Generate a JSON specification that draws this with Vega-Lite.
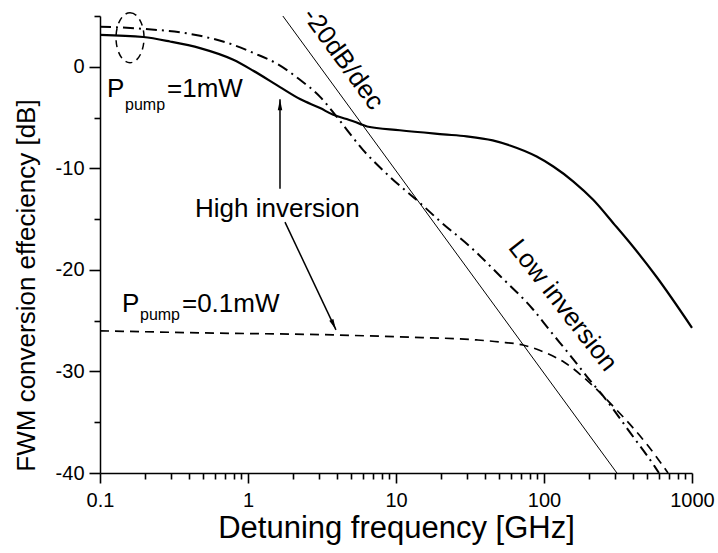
{
  "$schema": "https://vega.github.io/schema/vega-lite/v6.json",
  "width": 592,
  "height": 457,
  "autosize": {"type": "none"},
  "padding": {"left": 100, "top": 16, "right": 26, "bottom": 80},
  "background": "white",
  "config": {
    "view": {"stroke": null},
    "font": "Liberation Sans",
    "axis": {"grid": false, "ticks": true, "tickOpacity": 1, "domainColor": "black", "domainWidth": 1.5, "tickColor": "black", "tickWidth": 1.6, "labelColor": "black", "titleColor": "black", "titleFontWeight": "normal", "labelFont": "Liberation Sans", "titleFont": "Liberation Sans"}
  },
  "resolve": {"axis": {"x": "independent", "y": "independent"}},
  "datasets": {
    "curves": [
      {"series": "high1", "f": 0.1, "db": 3.15},
      {"series": "high1", "f": 0.196, "db": 2.93},
      {"series": "high1", "f": 0.297, "db": 2.49},
      {"series": "high1", "f": 0.474, "db": 1.84},
      {"series": "high1", "f": 0.796, "db": 0.69},
      {"series": "high1", "f": 1.086, "db": -0.39},
      {"series": "high1", "f": 1.645, "db": -2.0},
      {"series": "high1", "f": 2.245, "db": -3.18},
      {"series": "high1", "f": 3.07, "db": -4.07},
      {"series": "high1", "f": 3.77, "db": -4.73},
      {"series": "high1", "f": 4.64, "db": -5.15},
      {"series": "high1", "f": 5.71, "db": -5.62},
      {"series": "high1", "f": 6.37, "db": -5.88},
      {"series": "high1", "f": 10.6, "db": -6.25},
      {"series": "high1", "f": 20.9, "db": -6.65},
      {"series": "high1", "f": 30, "db": -6.85},
      {"series": "high1", "f": 45, "db": -7.25},
      {"series": "high1", "f": 58.9, "db": -7.75},
      {"series": "high1", "f": 89.2, "db": -8.84},
      {"series": "high1", "f": 115.6, "db": -9.82},
      {"series": "high1", "f": 158, "db": -11.3},
      {"series": "high1", "f": 215, "db": -13.1},
      {"series": "high1", "f": 294, "db": -15.4},
      {"series": "high1", "f": 399, "db": -17.7},
      {"series": "high1", "f": 577, "db": -20.7},
      {"series": "high1", "f": 1000, "db": -25.7},
      {"series": "low1", "f": 0.1, "db": 3.94},
      {"series": "low1", "f": 0.195, "db": 3.74},
      {"series": "low1", "f": 0.474, "db": 3.05},
      {"series": "low1", "f": 0.792, "db": 2.17},
      {"series": "low1", "f": 1.081, "db": 1.38},
      {"series": "low1", "f": 1.57, "db": 0.3},
      {"series": "low1", "f": 2.245, "db": -1.28},
      {"series": "low1", "f": 3.07, "db": -2.96},
      {"series": "low1", "f": 3.98, "db": -4.93},
      {"series": "low1", "f": 5.98, "db": -8.18},
      {"series": "low1", "f": 9.1, "db": -10.84},
      {"series": "low1", "f": 14.5, "db": -13.4},
      {"series": "low1", "f": 19.8, "db": -15.2},
      {"series": "low1", "f": 31.6, "db": -17.7},
      {"series": "low1", "f": 50.5, "db": -20.6},
      {"series": "low1", "f": 84.4, "db": -23.9},
      {"series": "low1", "f": 110, "db": -26.0},
      {"series": "low1", "f": 150, "db": -28.4},
      {"series": "low1", "f": 195, "db": -30.5},
      {"series": "low1", "f": 266.6, "db": -32.9},
      {"series": "low1", "f": 381, "db": -36.0},
      {"series": "low1", "f": 562, "db": -39.4},
      {"series": "low1", "f": 598, "db": -40},
      {"series": "p01", "f": 0.1, "db": -26.0},
      {"series": "p01", "f": 0.474, "db": -26.2},
      {"series": "p01", "f": 3.75, "db": -26.4},
      {"series": "p01", "f": 10.6, "db": -26.6},
      {"series": "p01", "f": 35.2, "db": -26.9},
      {"series": "p01", "f": 50.5, "db": -27.1},
      {"series": "p01", "f": 71.9, "db": -27.4},
      {"series": "p01", "f": 104, "db": -28.2},
      {"series": "p01", "f": 137, "db": -29.1},
      {"series": "p01", "f": 203, "db": -31.1},
      {"series": "p01", "f": 301, "db": -33.6},
      {"series": "p01", "f": 497, "db": -37.2},
      {"series": "p01", "f": 689, "db": -40}
    ],
    "guide": [{"f": 1.72, "db": 5, "f2": 311, "db2": -40}],
    "marker": [{"f": 0.1595, "db": 2.86}],
    "arrowUp": [{"f": 1.645, "db": -12.0, "f2": 1.645, "db2": -3.2}],
    "arrowDiag": [{"f": 1.778, "db": -15.3, "f2": 3.93, "db2": -25.9}],
    "bigText": [
      {"f": 0.1115, "db": -2.96, "text": "P"},
      {"f": 0.2838, "db": -2.96, "text": "=1mW"},
      {"f": 0.1408, "db": -24.14, "text": "P"},
      {"f": 0.358, "db": -24.14, "text": "=0.1mW"},
      {"f": 0.4385, "db": -14.78, "text": "High inversion"}
    ],
    "subText": [
      {"f": 0.1476, "db": -4.24, "text": "pump"},
      {"f": 0.1863, "db": -24.93, "text": "pump"}
    ],
    "slopeText": [{"f": 4.39, "db": 0.79, "text": "-20dB/dec"}],
    "lowText": [{"f": 134, "db": -23.5, "text": "Low inversion"}]
  },
  "encoding": {
    "x": {"field": "f", "type": "quantitative", "scale": {"type": "log", "domain": [0.1, 1000], "nice": false}, "axis": null},
    "y": {"field": "db", "type": "quantitative", "scale": {"domain": [-40, 5], "nice": false, "zero": false}, "axis": null}
  },
  "layer": [
    {
      "data": {"name": "guide"},
      "mark": {"type": "rule", "color": "black", "strokeWidth": 1},
      "encoding": {
        "x": {
          "field": "f", "type": "quantitative",
          "axis": {
            "orient": "bottom",
            "title": "Detuning frequency [GHz]",
            "values": [0.1, 1, 10, 100, 1000],
            "labelExpr": "'' + datum.value",
            "ticks": true,
            "tickSize": 10,
            "labelFlush": false,
            "labelOverlap": false,
            "labelFontSize": 20,
            "labelPadding": 7,
            "titleFontSize": 31,
            "titleY": 64,
            "titleBaseline": "alphabetic"
          }
        },
        "y": {
          "field": "db", "type": "quantitative",
          "axis": {
            "orient": "left",
            "title": "FWM conversion effeciency [dB]",
            "values": [-40, -30, -20, -10, 0],
            "labelExpr": "'' + datum.value",
            "ticks": true,
            "tickSize": 11,
            "labelOverlap": false,
            "labelFontSize": 20,
            "labelPadding": 5,
            "titleFontSize": 26,
            "titleX": -66,
            "titleY": 269,
            "titleBaseline": "alphabetic"
          }
        },
        "x2": {"field": "f2"},
        "y2": {"field": "db2"}
      }
    },
    {
      "data": {"name": "curves"},
      "transform": [{"filter": "datum.series == 'high1'"}],
      "mark": {"type": "line", "color": "black", "strokeWidth": 2.2, "interpolate": "monotone"},
      "encoding": {
        "x": {
          "field": "f", "type": "quantitative",
          "axis": {
            "orient": "bottom",
            "title": null,
            "values": [0.2,0.3,0.4,0.5,0.6,0.7,0.8,0.9,2,3,4,5,6,7,8,9,20,30,40,50,60,70,80,90,200,300,400,500,600,700,800,900],
            "labels": false,
            "domain": false,
            "ticks": true,
            "tickSize": 6
          }
        },
        "y": {
          "field": "db", "type": "quantitative",
          "axis": {
            "orient": "left",
            "title": null,
            "values": [-35, -25, -15, -5, 5],
            "labels": false,
            "domain": false,
            "ticks": true,
            "tickSize": 6
          }
        }
      }
    },
    {
      "data": {"name": "curves"},
      "transform": [{"filter": "datum.series == 'low1'"}],
      "mark": {"type": "line", "color": "black", "strokeWidth": 2, "strokeDash": [11, 5, 2, 5], "interpolate": "monotone"}
    },
    {
      "data": {"name": "curves"},
      "transform": [{"filter": "datum.series == 'p01'"}],
      "mark": {"type": "line", "color": "black", "strokeWidth": 1.7, "strokeDash": [9, 6], "interpolate": "monotone"}
    },
    {
      "data": {"name": "marker"},
      "mark": {"type": "point", "shape": "M0,-1A0.56,1,0,1,1,0,1A0.56,1,0,1,1,0,-1Z", "size": 2500, "filled": false, "color": "black", "strokeWidth": 1.5, "strokeDash": [7, 5], "opacity": 1}
    },
    {
      "data": {"name": "arrowUp"},
      "mark": {"type": "rule", "color": "black", "strokeWidth": 1.5},
      "encoding": {"x2": {"field": "f2"}, "y2": {"field": "db2"}}
    },
    {
      "data": {"name": "arrowDiag"},
      "mark": {"type": "rule", "color": "black", "strokeWidth": 1.5},
      "encoding": {"x2": {"field": "f2"}, "y2": {"field": "db2"}}
    },
    {
      "data": {"name": "arrowUp"},
      "mark": {"type": "point", "shape": "M0,0L0.45,2.2L-0.45,2.2Z", "size": 100, "filled": true, "color": "black", "opacity": 1, "angle": 0},
      "encoding": {"x": {"field": "f2", "type": "quantitative"}, "y": {"field": "db2", "type": "quantitative"}}
    },
    {
      "data": {"name": "arrowDiag"},
      "mark": {"type": "point", "shape": "M0,0L0.45,2.2L-0.45,2.2Z", "size": 100, "filled": true, "color": "black", "opacity": 1, "angle": 155},
      "encoding": {"x": {"field": "f2", "type": "quantitative"}, "y": {"field": "db2", "type": "quantitative"}}
    },
    {
      "data": {"name": "bigText"},
      "mark": {"type": "text", "align": "left", "baseline": "alphabetic", "fontSize": 26, "color": "black"},
      "encoding": {"text": {"field": "text"}}
    },
    {
      "data": {"name": "subText"},
      "mark": {"type": "text", "align": "left", "baseline": "alphabetic", "fontSize": 16, "color": "black"},
      "encoding": {"text": {"field": "text"}}
    },
    {
      "data": {"name": "slopeText"},
      "mark": {"type": "text", "align": "center", "baseline": "middle", "fontSize": 26, "angle": 54, "color": "black"},
      "encoding": {"text": {"field": "text"}}
    },
    {
      "data": {"name": "lowText"},
      "mark": {"type": "text", "align": "center", "baseline": "middle", "fontSize": 26, "angle": 52, "color": "black"},
      "encoding": {"text": {"field": "text"}}
    }
  ]
}
